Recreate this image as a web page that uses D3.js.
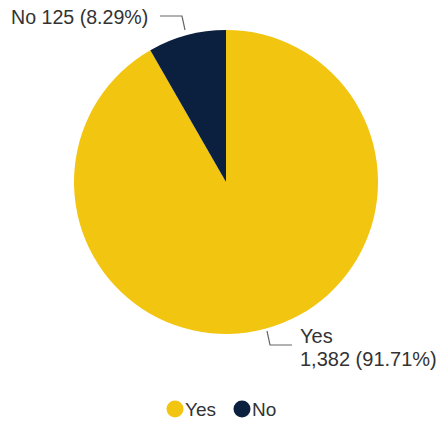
<!DOCTYPE html>
<html><head><meta charset="utf-8">
<script src="https://cdn.jsdelivr.net/npm/d3@7"></script>
<style>body{margin:0;background:#fff;}svg{display:block;font-family:Arial,"Liberation Sans",sans-serif;}</style>
</head><body>
<svg id="c" width="443" height="421"></svg>
<script>
const categories = ["Yes", "No"];
const values = [1382, 125];
const percents = ["91.71%", "8.29%"];
const colors = ["#F2C511", "#0B1F3F"];

const svg = d3.select("#c");
const cx = 226, cy = 182, R = 152;
const pie = d3.pie().sort(null).value(d => d)(values);
const arc = d3.arc().innerRadius(0).outerRadius(R);
const g = svg.append("g").attr("transform", `translate(${cx},${cy})`);
g.selectAll("path").data(pie).join("path")
  .attr("d", arc).attr("fill", (d, i) => colors[i]);

const fmt = d3.format(",");
const textColor = "#333";
const lineColor = "#666";

// No label
svg.append("path").attr("d", "M160,16 L182,16 L185,30").attr("fill", "none").attr("stroke", lineColor).attr("stroke-width", 1.2);
svg.append("text").attr("x", 11).attr("y", 24).attr("font-size", 19.6).attr("fill", textColor)
  .text(`${categories[1]} ${fmt(values[1])} (${percents[1]})`);

// Yes label
svg.append("path").attr("d", "M267,331 L270,345 L292,345").attr("fill", "none").attr("stroke", lineColor).attr("stroke-width", 1.2);
svg.append("text").attr("x", 300).attr("y", 343).attr("font-size", 20).attr("fill", textColor).text(categories[0]);
svg.append("text").attr("x", 300).attr("y", 366).attr("font-size", 20).attr("fill", textColor)
  .text(`${fmt(values[0])} (${percents[0]})`);

// Legend
const leg = [{x: 175}, {x: 242}];
categories.forEach((c, i) => {
  svg.append("circle").attr("cx", leg[i].x).attr("cy", 409).attr("r", 8.5).attr("fill", colors[i]);
  svg.append("text").attr("x", leg[i].x + 10).attr("y", 416).attr("font-size", 19).attr("fill", textColor).text(c);
});
</script>
</body></html>
